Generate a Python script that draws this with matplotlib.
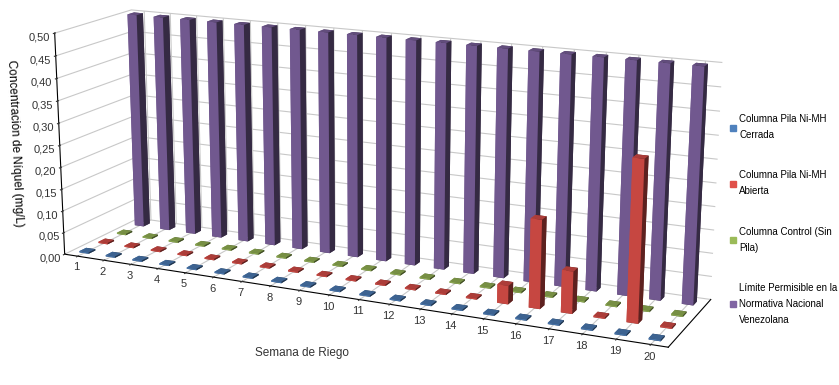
import numpy as np
import matplotlib.pyplot as plt
from matplotlib.patches import Patch
from matplotlib.ticker import FuncFormatter

plt.rcParams['font.family'] = ['Liberation Sans', 'DejaVu Sans']

semanas = list(range(1, 21))
cerrada = [0.0] * 20
abierta = [0, 0, 0, 0, 0, 0, 0, 0, 0, 0, 0, 0, 0, 0, 0.04, 0.19, 0.09, 0, 0.34, 0]
control = [0.0] * 20
limite = [0.5] * 20

series = [cerrada, abierta, control, limite]
nombres = ["Columna Pila Ni-MH\nCerrada", "Columna Pila Ni-MH\nAbierta",
           "Columna Control (Sin\nPila)", "Límite Permisible en la\nNormativa Nacional\nVenezolana"]
colores = ["#4f81bd", "#e0504a", "#9bbb59", "#8064a2"]

fig = plt.figure(figsize=(8.39, 3.85), dpi=100)
ax = fig.add_axes([-0.081, -0.58, 1.03, 2.25], projection='3d', proj_type='persp', focal_length=0.4)

w = 0.35
for j, vals in enumerate(series):
    for i, v in enumerate(vals):
        h = v if v > 0 else 0.003
        ax.bar3d(semanas[i] - w / 2, j * 1.0 - w / 2, 0, w, w, h,
                 color=colores[j], shade=True, edgecolor='none')

ax.set_xlim(0.5, 20.5)
ax.set_ylim(-0.5, 3.5)
ax.set_zlim(0, 0.5)
ax.set_xticks(semanas)
ax.set_yticks([])
ax.set_zticks(np.arange(0, 0.51, 0.05))
ax.zaxis.set_major_formatter(FuncFormatter(lambda v, p: f"{v:.2f}".replace('.', ',')))
ax.tick_params(axis='both', labelsize=8, colors='#333333', pad=0)
ax.set_zlabel("Concentración de Níquel (mg/L)", fontsize=8.5, labelpad=3)
ax.zaxis.set_ticks_position('lower')
ax.zaxis.set_label_position('lower')
for axis in (ax.xaxis, ax.yaxis, ax.zaxis):
    axis.set_pane_color((1, 1, 1, 0))
    axis._axinfo['grid']['color'] = '#c8c8c8'
    axis._axinfo['grid']['linewidth'] = 0.8
ax.set_box_aspect((7.2, 1.6, 2.6), zoom=0.8)
ax.view_init(elev=15, azim=-65)

fig.text(0.36, 0.075, "Semana de Riego", fontsize=8.5, color='#333333', ha='center')

handles = [Patch(color=c) for c in colores]
leg = fig.legend(handles, nombres, loc='center left', bbox_to_anchor=(0.86, 0.43),
                 frameon=False, fontsize=7, handlelength=0.6, handleheight=0.6,
                 labelspacing=3.1, handletextpad=0.3)
for t in leg.get_texts():
    t.set_linespacing(1.75)

fig.savefig("out.png", dpi=100)
